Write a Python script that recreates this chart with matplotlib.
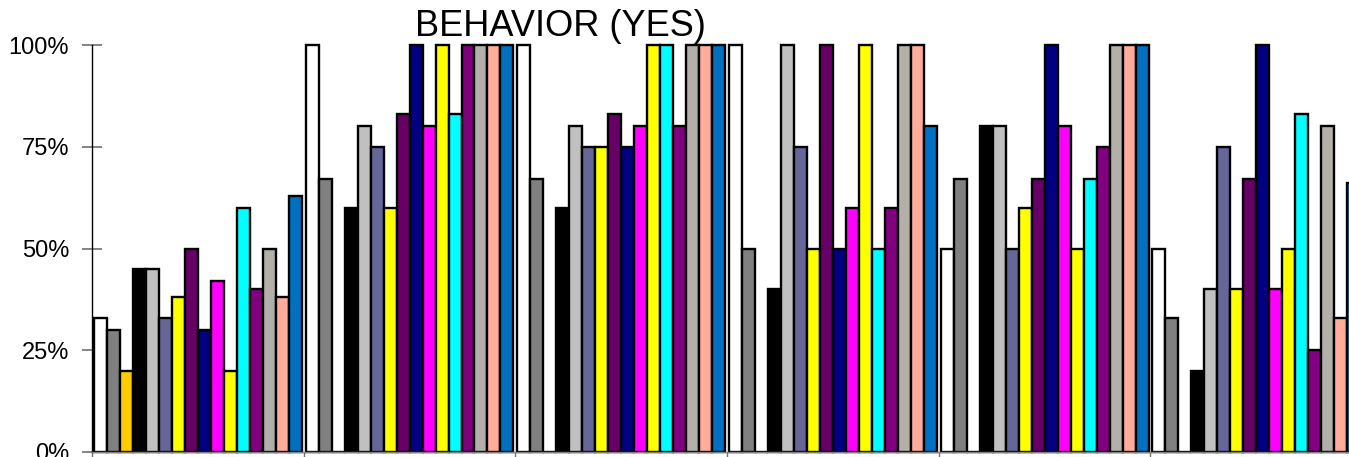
# -*- coding: utf-8 -*-
"""
Clustered bar chart: BEHAVIOR (YES), share of yes answers per group.
"""

import numpy as np
import matplotlib.pyplot as plt
from matplotlib.ticker import PercentFormatter


# groups along the x axis (labels are not shown in the chart)
GROUPS = ['G1', 'G2', 'G3', 'G4', 'G5', 'G6']

# share of "yes" per series, one value per group (0..1)
S01 = [0.33, 1.00, 1.00, 1.00, 0.50, 0.50]
S02 = [0.30, 0.67, 0.67, 0.50, 0.67, 0.33]
S03 = [0.20, 0.00, 0.00, 0.00, 0.00, 0.00]
S04 = [0.45, 0.60, 0.60, 0.40, 0.80, 0.20]
S05 = [0.45, 0.80, 0.80, 1.00, 0.80, 0.40]
S06 = [0.33, 0.75, 0.75, 0.75, 0.50, 0.75]
S07 = [0.38, 0.60, 0.75, 0.50, 0.60, 0.40]
S08 = [0.50, 0.83, 0.83, 1.00, 0.67, 0.67]
S09 = [0.30, 1.00, 0.75, 0.50, 1.00, 1.00]
S10 = [0.42, 0.80, 0.80, 0.60, 0.80, 0.40]
S11 = [0.20, 1.00, 1.00, 1.00, 0.50, 0.50]
S12 = [0.60, 0.83, 1.00, 0.50, 0.67, 0.83]
S13 = [0.40, 1.00, 0.80, 0.60, 0.75, 0.25]
S14 = [0.50, 1.00, 1.00, 1.00, 1.00, 0.80]
S15 = [0.38, 1.00, 1.00, 1.00, 1.00, 0.33]
S16 = [0.63, 1.00, 1.00, 0.80, 1.00, 0.66]

SERIES = [S01, S02, S03, S04, S05, S06, S07, S08,
          S09, S10, S11, S12, S13, S14, S15, S16]

# fill colour of each series
COLORS = ['#FFFFFF', '#808080', '#FFCC00', '#000000',
          '#C0C0C0', '#666699', '#FFFF00', '#660066',
          '#000080', '#FF00FF', '#FFFF00', '#00FFFF',
          '#800080', '#B3AFA9', '#FFAD9A', '#0070C0']

TITLE = 'BEHAVIOR (YES)'


plt.rcParams['font.family'] = ['Liberation Sans', 'DejaVu Sans']

# figure of 1349 x 457 px
fig = plt.figure(figsize=(13.49, 4.57), dpi=100)
# axes wider than the figure: the last group is cut at the right edge
ax = fig.add_axes([92 / 1349, 5 / 457, 6 * 211.7 / 1349, 407 / 457])

# Excel-like cluster: gap width 30 % of one bar
nser = len(SERIES)
wbar = 1. / (nser + 0.3)
xgrp = np.arange(len(GROUPS))
for iii, (vals, col) in enumerate(zip(SERIES, COLORS)):
    left = xgrp + 0.15 * wbar + iii * wbar
    ax.bar(left, vals, width=wbar, align='edge', color=col,
           edgecolor='black', linewidth=1.7, clip_on=False, zorder=2)

# axes limits
ax.set_xlim(0, len(GROUPS))
ax.set_ylim(0, 1)

# y axis: percent ticks crossing the axis line
ax.set_yticks([0, 0.25, 0.5, 0.75, 1.0])
ax.yaxis.set_major_formatter(PercentFormatter(1.0, decimals=0))
ax.tick_params(axis='y', direction='inout', length=14, width=1.2,
               color='#707070', labelsize=17, pad=9.5)

# x axis: ticks only at group boundaries, no labels
ax.set_xticks(np.arange(len(GROUPS) + 1))
ax.set_xticklabels([])
ax.tick_params(axis='x', direction='out', length=6, width=1, color='#707070')

# spines
ax.spines['top'].set_visible(False)
ax.spines['right'].set_visible(False)
ax.spines['left'].set_color('black')
ax.spines['left'].set_linewidth(1)
ax.spines['bottom'].set_color('#808080')
ax.spines['bottom'].set_linewidth(1)

# title placed off-centre as in the original sheet
fig.text(560 / 1349, 1 - 27 / 457, TITLE, fontsize=26,
         ha='center', va='center')

plt.savefig('out.png', dpi=100)
